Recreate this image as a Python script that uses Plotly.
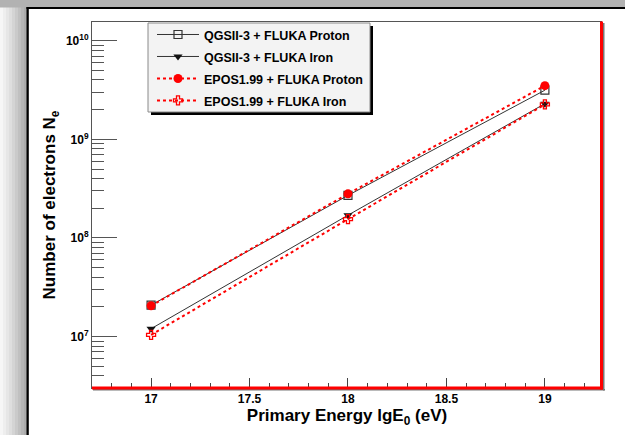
import plotly.graph_objects as go

# ---------------- data ----------------
energy = [17, 18, 19]
qgs_proton = [2.08e7, 2.70e8, 3.15e9]
qgs_iron = [1.20e7, 1.70e8, 2.30e9]
epos_proton = [2.05e7, 2.80e8, 3.50e9]
epos_iron = [1.04e7, 1.55e8, 2.26e9]

names = ["QGSII-3 + FLUKA Proton", "QGSII-3 + FLUKA Iron",
         "EPOS1.99 + FLUKA Proton", "EPOS1.99 + FLUKA Iron"]
ytick_vals = [1e7, 1e8, 1e9, 1e10]
ytick_text = ["10<sup>7</sup>", "10<sup>8</sup>", "10<sup>9</sup>", "10<sup>10</sup>"]
xtick_vals = [17, 17.5, 18, 18.5, 19]
xtick_text = ["17", "17.5", "18", "18.5", "19"]

# ---------------- geometry ----------------
W, H = 625, 435
L, R, T, B = 92, 602, 22, 388
FONT = "Liberation Sans, Arial, sans-serif"


def px(x):
    return (x - L) / (R - L)


def py(y):
    return (B - y) / (B - T)


def lab(s):
    return '<span style="font-size:12.5px">' + s + '</span>'


fig = go.Figure()
fig.add_trace(go.Scatter(x=energy, y=qgs_proton, name=lab(names[0]), mode="lines+markers",
                         line=dict(color="#333333", width=1),
                         marker=dict(symbol="square-open", size=8, color="#333333",
                                     line=dict(width=1.2))))
fig.add_trace(go.Scatter(x=energy, y=qgs_iron, name=lab(names[1]), mode="lines+markers",
                         line=dict(color="#333333", width=1),
                         marker=dict(symbol="triangle-down", size=8, color="#111111")))
fig.add_trace(go.Scatter(x=energy, y=epos_proton, name=lab(names[2]), mode="lines+markers",
                         line=dict(color="#ff0000", width=2, dash="3px,3px"),
                         marker=dict(symbol="circle", size=9, color="#ff0000")))
fig.add_trace(go.Scatter(x=energy, y=epos_iron, name=lab(names[3]), mode="lines+markers",
                         line=dict(color="#ff0000", width=2, dash="3px,3px"),
                         marker=dict(symbol="cross-open", size=7.5, color="#ff0000",
                                     line=dict(width=1.3))))

minor_y = [m * 10 ** k for k in range(6, 11) for m in range(2, 10)]

shapes = []
# left gradient frame
grad = ["#f6f6f6", "#eeeeee", "#e6e6e6", "#dedede", "#d4d4d4", "#cacaca",
        "#c0c0c0", "#b6b6b6", "#acacac"]
step = 27 / len(grad)
for i, c in enumerate(grad):
    shapes.append(dict(type="rect", xref="paper", yref="paper",
                       x0=px(i * step), x1=px((i + 1) * step + 0.5), y0=py(H), y1=py(0),
                       fillcolor=c, line=dict(width=0), layer="below"))
# top band
shapes.append(dict(type="rect", xref="paper", yref="paper", x0=px(0), x1=px(W),
                   y0=py(7.5), y1=py(0), fillcolor="#b2b2b2", line=dict(width=0), layer="below"))
# black frame lines
shapes.append(dict(type="rect", xref="paper", yref="paper", x0=px(26.5), x1=px(28.8),
                   y0=py(H), y1=py(7), fillcolor="#000000", line=dict(width=0), layer="below"))
shapes.append(dict(type="rect", xref="paper", yref="paper", x0=px(26.5), x1=px(W),
                   y0=py(9), y1=py(7), fillcolor="#000000", line=dict(width=0), layer="below"))
# red bottom and right frame with shadow
shapes.append(dict(type="rect", xref="paper", yref="paper", x0=px(93), x1=px(605),
                   y0=py(390.5), y1=py(389), fillcolor="#777777", line=dict(width=0)))
shapes.append(dict(type="rect", xref="paper", yref="paper", x0=px(603), x1=px(604.5),
                   y0=py(390.5), y1=py(23), fillcolor="#777777", line=dict(width=0)))
shapes.append(dict(type="rect", xref="paper", yref="paper", x0=px(92), x1=px(603),
                   y0=py(389.5), y1=py(386.5), fillcolor="#ff0000", line=dict(width=0)))
shapes.append(dict(type="rect", xref="paper", yref="paper", x0=px(600), x1=px(603),
                   y0=py(389.5), y1=py(21.5), fillcolor="#ff0000", line=dict(width=0)))
# legend box with drop shadow (legend itself is transparent)
LEG_L, LEG_T, LEG_R, LEG_B = 148, 23, 370, 112
shapes.append(dict(type="rect", xref="paper", yref="paper", x0=px(LEG_L + 3), x1=px(LEG_R + 3),
                   y0=py(LEG_B + 3), y1=py(LEG_T + 3), fillcolor="#000000", line=dict(width=0)))
shapes.append(dict(type="rect", xref="paper", yref="paper", x0=px(LEG_L), x1=px(LEG_R),
                   y0=py(LEG_B), y1=py(LEG_T), fillcolor="#f3f3f3",
                   line=dict(color="#8a8a8a", width=1)))

fig.update_layout(
    width=W, height=H,
    margin=dict(l=L, r=W - R, t=T, b=H - B),
    paper_bgcolor="white", plot_bgcolor="white",
    font=dict(family=FONT, color="black"),
    showlegend=True,
    legend=dict(x=px(152), y=py(18.5), xanchor="left", yanchor="top",
                bgcolor="rgba(0,0,0,0)", borderwidth=0,
                font=dict(family=FONT, size=14.6, weight="bold", color="black"),
                itemwidth=42, tracegroupgap=0),
    shapes=shapes,
    xaxis=dict(range=[16.7, 19.29], showgrid=False, zeroline=False,
               showline=True, linecolor="#555555", linewidth=1, mirror=True,
               ticks="inside", ticklen=10, tickcolor="#444444", tickwidth=1,
               tickvals=xtick_vals, ticktext=xtick_text,
               tickfont=dict(family=FONT, size=12, weight="bold", color="black"),
               minor=dict(dtick=0.1, ticks="inside", ticklen=5, tickcolor="#444444"),
               title=dict(text="Primary Energy lgE<sub>0</sub> (eV)", standoff=3,
                          font=dict(family=FONT, size=17, weight="bold", color="black"))),
    yaxis=dict(type="log", range=[6.478, 10.19], showgrid=False, zeroline=False,
               showline=True, linecolor="#555555", linewidth=1,
               ticks="inside", ticklen=25, tickcolor="#555555", tickwidth=1,
               tickvals=ytick_vals, ticktext=ytick_text,
               tickfont=dict(family=FONT, size=12, weight="bold", color="black"),
               minor=dict(tickvals=minor_y, ticks="inside", ticklen=12, tickcolor="#555555"),
               title=dict(text="Number of electrons N<sub>e</sub>", standoff=5,
                          font=dict(family=FONT, size=17, weight="bold", color="black"))),
)

fig.write_html("out.html")
